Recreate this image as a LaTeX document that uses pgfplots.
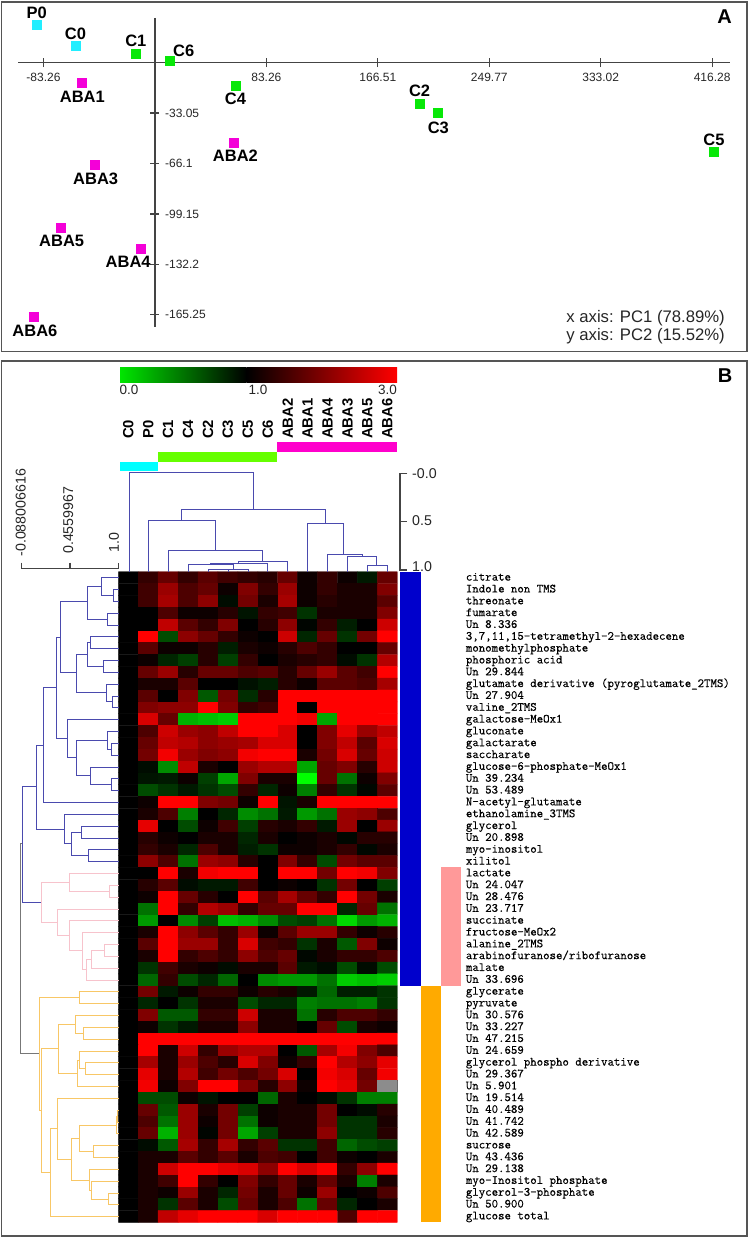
\documentclass[border=0pt]{standalone}
\usepackage{fontspec}
\setmainfont{Liberation Sans}
\newfontfamily\labmono[FakeBold=0.5]{Latin Modern Mono}
\usepackage{pgfplots}
\pgfplotsset{compat=1.18}
\definecolor{axdark}{HTML}{444444}
\definecolor{frame}{HTML}{555555}
\definecolor{dblue}{HTML}{4A4AAE}
\definecolor{dpink}{HTML}{F7C3CC}
\definecolor{dorange}{HTML}{F8C766}
\definecolor{dgray}{HTML}{777777}
\definecolor{pcyan}{HTML}{22EEFF}
\definecolor{pgreen}{HTML}{08E808}
\definecolor{pmag}{HTML}{F400D8}
\definecolor{barcyan}{HTML}{00FFFF}
\pgfplotsset{dendro/.style={no marks,line width=1pt,unbounded coords=jump,line join=miter}}
\begin{document}
\begin{tikzpicture}[x=1pt,y=1pt]
\path[use as bounding box] (0,0) rectangle (749,1239);
% panel frames
\begin{scope}[y=-1pt,yshift=1239pt]
\draw[frame,line width=1.3pt] (1.5,2) rectangle (747,351.7);
\draw[frame,line width=1.3pt] (1.5,361) rectangle (747,1236);
\end{scope}
% ---------- Panel A
\begin{axis}[at={(18pt,912pt)},anchor=south west,width=712pt,height=309pt,scale only axis,
 xmin=-102.3,xmax=429.6,ymin=-173.3,ymax=29.3,
 axis x line=middle,axis y line=middle,clip=false,
 every inner x axis line/.append style={-},every inner y axis line/.append style={-},
 axis line style={draw=none},tick style={draw=none},major tick length=0pt,
 xtick={-83.26,83.26,166.51,249.77,333.02,416.28},
 xticklabels={-83.26,83.26,166.51,249.77,333.02,416.28},
 ytick={-33.05,-66.1,-99.15,-132.2,-165.25},
 yticklabels={-33.05,-66.1,-99.15,-132.2,-165.25},
 xticklabel style={font=\fontsize{12}{12}\selectfont,anchor=center,yshift=-14.3pt,inner sep=0pt,text=black!85},
 yticklabel pos=right,
 yticklabel style={font=\fontsize{12}{12}\selectfont,anchor=west,xshift=10pt,inner sep=0pt,text=black!85}]
\addplot[no marks,draw=axdark,line width=1.5pt] coordinates {(-102.3,0)(429.6,0)};
\addplot[no marks,draw=axdark,line width=1.5pt] coordinates {(0,29.3)(0,-173.3)};
\addplot[no marks,draw=axdark,line width=1.3pt,unbounded coords=jump] coordinates {
 (-83.26,-3)(-83.26,3)(nan,nan)(83.26,-3)(83.26,3)(nan,nan)(166.51,-3)(166.51,3)(nan,nan)
 (249.77,-3)(249.77,3)(nan,nan)(333.02,-3)(333.02,3)(nan,nan)(416.28,-3)(416.28,3)(nan,nan)
 (-3.4,-33.05)(3.4,-33.05)(nan,nan)(-3.4,-66.1)(3.4,-66.1)(nan,nan)(-3.4,-99.15)(3.4,-99.15)(nan,nan)
 (-3.4,-132.2)(3.4,-132.2)(nan,nan)(-3.4,-165.25)(3.4,-165.25)};
\addplot[only marks,mark=square*,mark size=4.5pt,color=pcyan] coordinates {(-88.2,24.7)(-59.3,11.3)};
\addplot[only marks,mark=square*,mark size=4.5pt,color=pgreen] coordinates {(-14.6,6.2)(10.7,1.3)(60,-14.8)(197.8,-26.9)(211.4,-32.8)(417.1,-58.3)};
\addplot[only marks,mark=square*,mark size=4.5pt,color=pmag] coordinates {(-54.7,-13.1)(58.9,-52.6)(-45,-67.1)(-70.7,-108.2)(-10.4,-121.7)(-90.4,-166.7)};
\end{axis}
% ---------- Heat map
\begin{axis}[at={(118.3pt,16.7pt)},anchor=south west,width=279pt,height=650.6pt,scale only axis,
 xmin=-0.5,xmax=13.5,ymin=-0.5,ymax=54.5,y dir=reverse,enlargelimits=false,
 colormap={gkr}{[1pt] rgb255(0pt)=(0,255,0); rgb255(1pt)=(0,0,0); rgb255(3pt)=(255,0,0)},
 point meta min=0,point meta max=3,
 axis line style={draw=none},tick style={draw=none},major tick length=0pt,
 xtick={0,...,13},
 xticklabels={C0,P0,C1,C4,C2,C3,C5,C6,ABA2,ABA1,ABA4,ABA3,ABA5,ABA6},
 xticklabel pos=upper,
 xticklabel style={yshift=132.7pt,rotate=90,anchor=west,inner sep=0pt,font=\bfseries\fontsize{14.8}{14.8}\selectfont},
 ytick={0,...,54},
 yticklabels={citrate,Indole non TMS,threonate,fumarate,Un 8.336,{3,7,11,15-tetramethyl-2-hexadecene},monomethylphosphate,phosphoric acid,Un 29.844,glutamate derivative (pyroglutamate\_2TMS),Un 27.904,valine\_2TMS,galactose-MeOx1,gluconate,galactarate,saccharate,glucose-6-phosphate-MeOx1,Un 39.234,Un 53.489,N-acetyl-glutamate,ethanolamine\_3TMS,glycerol,Un 20.898,myo-inositol,xilitol,lactate,Un 24.047,Un 28.476,Un 23.717,succinate,fructose-MeOx2,alanine\_2TMS,arabinofuranose/ribofuranose,malate,Un 33.696,glycerate,pyruvate,Un 30.576,Un 33.227,Un 47.215,Un 24.659,glycerol phospho derivative,Un 29.367,Un 5.901,Un 19.514,Un 40.489,Un 41.742,Un 42.589,sucrose,Un 43.436,Un 29.138,myo-Inositol phosphate,glycerol-3-phosphate,Un 50.900,glucose total},
 yticklabel pos=right,
 yticklabel style={anchor=west,xshift=68.4pt,inner sep=0pt,text height=8pt,text depth=2pt,font=\labmono\fontsize{12.5}{12.5}\selectfont}]
\addplot[matrix plot*,mesh/cols=14,mesh/ordering=x varies,point meta=\thisrowno{0}]
 table[row sep=crcr,header=false,x expr={round(mod(\coordindex+0.5,14)-0.5)},y expr={floor((\coordindex+0.5)/14)}] {
1\\1.4\\1.8\\1.4\\1.7\\1.5\\1.4\\1.3\\1.8\\1.1\\1.4\\1.1\\.9\\1.8\\
1\\1.5\\2.2\\1.6\\1.8\\1.1\\2\\1.4\\2.2\\1.1\\1.4\\1.2\\1.2\\2\\
1\\1.5\\2.3\\1.6\\2.1\\.95\\1.9\\1.2\\2.3\\1.1\\1.3\\1.2\\1.2\\1.7\\
1\\1\\1.6\\1.1\\1.1\\1.3\\.92\\1.4\\1.5\\.8\\1.2\\1.2\\1.2\\2\\
1\\1\\2.5\\1.7\\1.4\\2\\1\\1.3\\2.1\\.98\\1.4\\.88\\1\\2.6\\
1\\3\\.7\\2.1\\1.8\\1.4\\1.1\\1\\2.6\\.85\\1.8\\.8\\1.9\\3\\
1\\1.7\\1.1\\1.1\\1.3\\.88\\1.2\\1.1\\1.3\\1.6\\1.4\\1\\1\\1.8\\
1\\1.1\\.85\\.75\\1.3\\.75\\1.4\\1\\1.2\\1.3\\1.4\\.95\\.8\\2.4\\
1\\1.8\\2.2\\1.3\\1.8\\1.8\\1.6\\1.7\\1.3\\1.8\\2.2\\1.7\\1.5\\3\\
1\\1.2\\1.2\\1.7\\1\\1\\.93\\.88\\1.3\\1.1\\1.7\\1.7\\1.6\\2.3\\
1\\1.7\\1\\2\\.65\\1.9\\.82\\1.3\\3\\3\\3\\3\\3\\3\\
1\\2\\2.1\\2.1\\3\\2\\1.4\\1.5\\3\\1\\3\\3\\3\\3\\
1\\2.7\\1.8\\.3\\.25\\.2\\3\\3\\3\\2.9\\.35\\3\\3\\3\\
1\\1.6\\2.6\\2.2\\2.1\\2.5\\3\\3\\2.7\\1\\2\\2.8\\2.2\\2.5\\
1\\1.8\\2.5\\2.4\\2.1\\2.2\\2.3\\2.7\\2.7\\1\\2\\2.5\\1.7\\2.7\\
1\\1.9\\2.9\\2.2\\2\\2.1\\2.9\\3\\3\\1.2\\1.9\\2.7\\1.8\\2.6\\
1\\.95\\.45\\2.5\\1.2\\1\\2.2\\2.4\\2.4\\.35\\1.8\\2\\1.3\\2.6\\
1\\.92\\.9\\1.1\\.75\\.35\\2\\1.2\\1.2\\0\\1.8\\.55\\1.1\\2\\
1\\.7\\.8\\.9\\.8\\.7\\1.4\\.85\\1.1\\.5\\1.4\\.8\\.97\\1.7\\
1\\1.1\\3\\3\\2\\1.9\\1.1\\3\\.92\\1.2\\3\\3\\3\\3\\
1\\1.2\\1.6\\.5\\1\\.85\\.45\\.55\\.9\\.4\\.55\\2.2\\2.1\\1.6\\
1\\2.8\\1\\.7\\1.1\\1.5\\.75\\1.3\\1.2\\1.4\\.9\\2.2\\1\\2.2\\
1\\1.3\\1.1\\1\\1.2\\1.2\\.85\\1.2\\1\\1.1\\1.2\\.97\\1.3\\1.3\\
1\\1.4\\1.2\\.85\\1.6\\1.2\\.88\\.8\\1.1\\1.1\\1.2\\1.4\\.97\\1.2\\
1\\2.1\\1.6\\.55\\2.2\\2.1\\1.3\\1\\2\\1.4\\.7\\1.9\\1.7\\1.7\\
1\\1\\3\\1.2\\2.9\\3\\3\\1\\3\\3\\1.9\\3\\2.9\\2\\
1\\1.3\\1.7\\.95\\.9\\.9\\1.5\\1\\1.1\\1\\.8\\1.9\\1\\.75\\
1\\1.1\\3\\1.8\\1.3\\1\\3\\1.7\\2.3\\1.8\\1.4\\3\\1.9\\1.2\\
1\\.55\\3\\1.4\\2.4\\2.2\\1.4\\1.8\\1.8\\3\\3\\.85\\1.8\\.55\\
1\\.4\\1\\.45\\.75\\.25\\.3\\.45\\.7\\.75\\.55\\.15\\.4\\.3\\
1\\1.2\\3\\2.1\\1.7\\1.4\\2.2\\1.1\\1.7\\2.2\\2.2\\1.4\\1.1\\1.3\\
1\\1.7\\3\\2.2\\2.2\\1.4\\2.7\\1.5\\1.4\\.8\\1.2\\.65\\2\\1.1\\
1\\1.2\\3\\1.4\\1.6\\1.4\\2.1\\1.6\\1.8\\.97\\1.2\\1.4\\1.4\\1.6\\
1\\.8\\1.5\\1.2\\1.1\\.95\\1.2\\1.2\\1.7\\.9\\.95\\.7\\.95\\.7\\
1\\.6\\1.4\\.7\\.85\\.6\\1\\.45\\.4\\.4\\.55\\.2\\.25\\.2\\
1\\1.9\\.9\\1.1\\1.4\\1.4\\1.1\\1.3\\1.2\\.9\\.6\\.88\\.88\\.8\\
1\\.85\\1\\.8\\1.2\\1.2\\.7\\.85\\.85\\.5\\.55\\.55\\.5\\.8\\
1\\2\\.65\\.65\\1.4\\1.4\\2.6\\1.2\\1.2\\.55\\1.3\\1.6\\1.6\\1.4\\
1\\1.1\\.8\\.9\\1.2\\1.2\\2.1\\1.2\\1.2\\1\\1.8\\.7\\1.2\\1.1\\
1\\3\\3\\3\\3\\3\\3\\3\\3\\3\\3\\3\\3\\3\\
1\\3\\1.2\\2.6\\1.4\\2.2\\2.4\\2.4\\1\\.65\\2.3\\2.9\\2\\1.6\\
1\\2.3\\1.2\\2.2\\1.6\\1.3\\2.7\\2\\1.1\\1.4\\3\\2.4\\2.1\\2.8\\
1\\2.8\\1.2\\2.4\\1.5\\1.9\\1.6\\1.9\\2.7\\1\\2.9\\2.7\\1.8\\2.9\\
1\\2.9\\1.1\\2\\3\\3\\2\\1.3\\2.1\\1.1\\3\\2.8\\1.9\\1\\
1\\.7\\.7\\1.1\\.92\\1\\1\\.6\\1.2\\1\\.95\\.8\\.5\\.5\\
1\\1.8\\.65\\2.2\\1.2\\1.9\\.75\\1.1\\1.2\\1.2\\1.9\\1\\.95\\1.3\\
1\\1.6\\.55\\2.2\\1.1\\1.9\\.55\\1.1\\1.2\\1.2\\1.9\\.8\\.8\\1.2\\
1\\1.8\\.3\\2.2\\.98\\1.9\\.35\\.75\\1.2\\1.2\\2.1\\.8\\.8\\1.3\\
1\\.95\\.65\\2.3\\1.4\\2.3\\1.4\\1.7\\.8\\.8\\1.5\\.6\\.7\\.75\\
1\\1.2\\1.2\\1.7\\1.4\\1.7\\1.2\\1.6\\1.5\\1\\1.5\\1.1\\1\\1.2\\
1\\1.2\\2.6\\3\\3\\2.8\\2.7\\2.1\\3\\2.7\\3\\1.4\\2.1\\3\\
1\\1.2\\1.5\\3\\1.4\\1\\2\\1.4\\1.8\\1.2\\1.8\\1.2\\.5\\1.2\\
1\\1.2\\1.1\\2.2\\1.2\\.85\\1.9\\1.2\\1.8\\1.1\\2.2\\1\\1.1\\1.6\\
1\\1.2\\.8\\1.7\\1.2\\.7\\1.8\\1.2\\1.6\\.55\\1.8\\.85\\1\\1.2\\
1\\1.2\\2.5\\2.8\\3\\3\\3\\2.7\\3\\3\\3\\1.6\\3\\3\\
};
% missing value
\addplot[fill=black!45,draw=none] coordinates {(12.5,42.5)(13.5,42.5)(13.5,43.5)(12.5,43.5)} --cycle;
\end{axis}
% ---------- Overlay: dendrograms, side bars, scales (units: 3 per image pixel)
\begin{axis}[at={(0pt,0pt)},anchor=south west,width=749pt,height=1239pt,scale only axis,
 xmin=0,xmax=2247,ymin=0,ymax=3717,y dir=reverse,hide axis,clip=false]
% side bars
\addplot[fill=barcyan,draw=none] coordinates {(360,1385)(475,1385)(475,1412)(360,1412)} --cycle;
\addplot[fill={rgb,255:red,102;green,255;blue,0},draw=none] coordinates {(475,1356)(832,1356)(832,1385)(475,1385)} --cycle;
\addplot[fill={rgb,255:red,255;green,0;blue,204},draw=none] coordinates {(832,1326)(1190,1326)(1190,1356)(832,1356)} --cycle;
\addplot[fill={rgb,255:red,0;green,0;blue,204},draw=none] coordinates {(1201,1715)(1262,1715)(1262,2957)(1201,2957)} --cycle;
\addplot[fill={rgb,255:red,255;green,170;blue,0},draw=none] coordinates {(1262,2957)(1322,2957)(1322,3667)(1262,3667)} --cycle;
\addplot[fill={rgb,255:red,255;green,153;blue,153},draw=none] coordinates {(1322,2602)(1383,2602)(1383,2957)(1322,2957)} --cycle;
% left dendrogram, blue
\addplot[dendro,dblue] table[row sep=crcr,header=false,y expr=\thisrowno{1}+1695] {
356 73\\340 73\\340 109\\356 109\\nan nan\\
356 38\\304 38\\304 91\\340 91\\nan nan\\
356 144\\322 144\\322 180\\356 180\\nan nan\\
304 63\\263 63\\263 162\\322 162\\nan nan\\
356 215\\271 215\\271 251\\356 251\\nan nan\\
356 286\\310 286\\310 322\\356 322\\nan nan\\
271 233\\263 233\\263 304\\310 304\\nan nan\\
356 393\\338 393\\338 428\\356 428\\nan nan\\
356 357\\319 357\\319 410\\338 410\\nan nan\\
263 267\\230 267\\230 382\\319 382\\nan nan\\
263 110\\180 110\\180 322\\230 322\\nan nan\\
356 535\\334 535\\334 570\\356 570\\nan nan\\
356 499\\322 499\\322 552\\334 552\\nan nan\\
356 641\\334 641\\334 677\\356 677\\nan nan\\
356 606\\271 606\\271 659\\334 659\\nan nan\\
322 525\\228 525\\228 632\\271 632\\nan nan\\
356 464\\201 464\\201 578\\228 578\\nan nan\\
180 216\\170 216\\170 520\\201 520\\nan nan\\
170 367\\130 367\\130 712\\356 712\\nan nan\\
356 783\\243 783\\243 819\\356 819\\nan nan\\
356 854\\266 854\\266 890\\356 890\\nan nan\\
243 801\\213 801\\213 872\\266 872\\nan nan\\
356 748\\194 748\\194 835\\213 835\\nan nan\\
130 540\\109 540\\109 792\\194 792\\nan nan\\
109 665\\67 665\\67 1011\\124 1011\\
};
% left dendrogram, pink
\addplot[dendro,dpink] table[row sep=crcr,header=false,y expr=\thisrowno{1}+2670] {
356 -14\\328 -14\\328 21\\356 21\\nan nan\\
356 -50\\208 -50\\208 3\\328 3\\nan nan\\
356 163\\313 163\\313 199\\356 199\\nan nan\\
313 181\\274 181\\274 234\\356 234\\nan nan\\
274 208\\259 208\\259 270\\356 270\\nan nan\\
356 128\\247 128\\247 238\\259 238\\nan nan\\
356 92\\208 92\\208 181\\247 181\\nan nan\\
356 57\\171 57\\171 136\\208 136\\nan nan\\
208 -23\\124 -23\\124 96\\171 96\\
};
% left dendrogram, orange
\addplot[dendro,dorange] table[row sep=crcr,header=false,y expr=\thisrowno{1}+2670] {
356 305\\237 305\\237 341\\356 341\\nan nan\\
356 412\\250 412\\250 447\\356 447\\nan nan\\
356 376\\226 376\\226 429\\250 429\\nan nan\\
356 518\\257 518\\257 554\\356 554\\nan nan\\
356 483\\238 483\\238 536\\257 536\\nan nan\\
238 510\\231 510\\231 589\\356 589\\nan nan\\
226 403\\175 403\\175 549\\231 549\\nan nan\\
356 660\\353 660\\353 696\\356 696\\nan nan\\
353 678\\349 678\\349 731\\356 731\\nan nan\\
356 767\\280 767\\280 802\\356 802\\nan nan\\
349 705\\239 705\\239 785\\280 785\\nan nan\\
356 909\\325 909\\325 944\\356 944\\nan nan\\
356 873\\275 873\\275 927\\325 927\\nan nan\\
356 838\\269 838\\269 900\\275 900\\nan nan\\
239 745\\215 745\\215 870\\269 870\\nan nan\\
356 625\\173 625\\173 808\\215 808\\nan nan\\
173 715\\150 715\\150 980\\356 980\\nan nan\\
175 476\\124 476\\124 848\\150 848\\nan nan\\
237 323\\118 323\\118 660\\124 660\\
};
% root
\addplot[dendro,dgray] table[row sep=crcr,header=false,y expr=\thisrowno{1}+2670] {
67 -140\\62 -140\\62 491\\118 491\\
};
% column dendrogram
\addplot[dendro,dblue] table[row sep=crcr,header=false,y expr=\thisrowno{1}+1080] {
388 635\\388 338\\761 338\\761 449\\nan nan\\
545 482\\545 449\\976 449\\976 491\\nan nan\\
445 635\\445 482\\646 482\\646 572\\nan nan\\
505 635\\505 572\\787 572\\787 604\\nan nan\\
716 610\\716 604\\862 604\\862 635\\nan nan\\
632 613\\632 610\\803 610\\803 635\\nan nan\\
565 635\\565 613\\700 613\\700 627\\nan nan\\
654 629\\654 627\\745 627\\745 635\\nan nan\\
624 635\\624 629\\684 629\\684 635\\nan nan\\
921 635\\921 491\\1031 491\\1031 583\\nan nan\\
981 635\\981 583\\1086 583\\1086 589\\nan nan\\
1042 635\\1042 589\\1130 589\\1130 616\\nan nan\\
1102 635\\1102 616\\1162 616\\1162 635\\
};
% distance scales
\addplot[dendro,axdark,line width=1.3pt] table[row sep=crcr,header=false,y expr=\thisrowno{1}+1080] {
64 608\\64 625\\355 625\\355 608\\nan nan\\
210 608\\210 625\\nan nan\\
1222 340\\1200 340\\1200 630\\1222 630\\nan nan\\
1200 485\\1222 485\\
};
\end{axis}
% ---------- Text and colour scale (image pixel coordinates)
\begin{scope}[y=-1pt,yshift=1239pt]
\tikzset{lab/.style={font=\bfseries\fontsize{16.5}{16.5}\selectfont,inner sep=0pt,anchor=center}}
\node[lab] at (36.8,13.3) {P0};
\node[lab] at (75.5,34) {C0};
\node[lab] at (135.8,41.3) {C1};
\node[lab] at (183.7,51) {C6};
\node[lab] at (82.3,96.7) {ABA1};
\node[lab] at (235.4,99) {C4};
\node[lab] at (419.6,91) {C2};
\node[lab] at (438.3,127.7) {C3};
\node[lab] at (714,139.7) {C5};
\node[lab] at (235.4,156) {ABA2};
\node[lab] at (95.7,178.7) {ABA3};
\node[lab] at (61.7,241) {ABA5};
\node[lab] at (128.2,262) {ABA4};
\node[lab] at (34.9,331) {ABA6};
\node[font=\bfseries\fontsize{20}{20}\selectfont,inner sep=0pt] at (724.5,16.5) {A};
\node[font=\bfseries\fontsize{20}{20}\selectfont,inner sep=0pt] at (725,376) {B};
\node[font=\fontsize{16.7}{20}\selectfont,inner sep=0pt,anchor=east,align=left,text=black!85] at (725,327) {x axis: PC1 (78.89\%)\\[-2pt]y axis: PC2 (15.52\%)};
% colour scale
\shade[left color={rgb,255:red,0;green,230;blue,0},right color=black] (120,368) rectangle (246.7,382.5);
\shade[left color=black,right color=red] (246.7,368) rectangle (397,382.5);
\tikzset{cb/.style={font=\fontsize{13.5}{13.5}\selectfont,inner sep=0pt,text=black!85}}
\node[cb,anchor=west] at (119.5,390) {0.0};
\node[cb] at (258,390) {1.0};
\node[cb,anchor=east] at (397,390) {3.0};
% scale labels
\tikzset{sl/.style={font=\fontsize{14.2}{14.2}\selectfont,inner sep=0pt,text=black!85}}
\node[sl,rotate=90,anchor=west] at (20.7,556.7) {-0.088006616};
\node[sl,rotate=90,anchor=west] at (68.3,554) {0.4559967};
\node[sl,rotate=90,anchor=west] at (114,553) {1.0};
\node[sl,anchor=west] at (412,474) {-0.0};
\node[sl,anchor=west] at (412,521) {0.5};
\node[sl,anchor=west] at (412,567) {1.0};
\end{scope}
\end{tikzpicture}
\end{document}
